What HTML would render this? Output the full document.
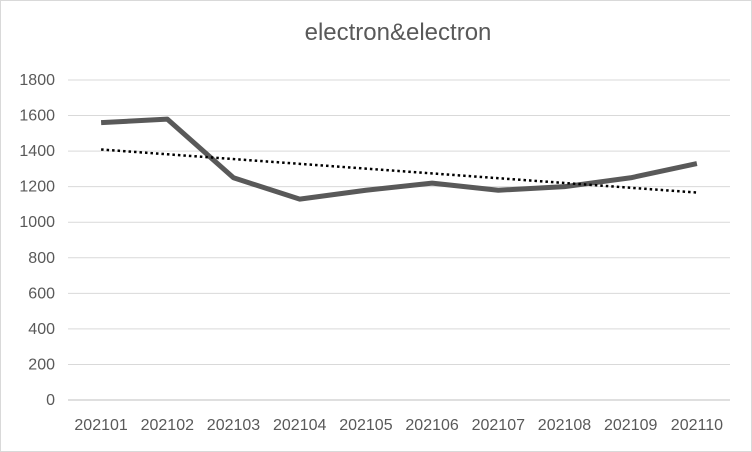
<!DOCTYPE html>
<html><head><meta charset="utf-8"><style>
html,body{margin:0;padding:0;background:#fff}
svg{display:block;font-family:"Liberation Sans",sans-serif}
</style></head><body>
<svg id="chart" width="752" height="452">
<rect x="0.5" y="0.5" width="751" height="451" fill="#fff" stroke="#d9d9d9"/>
<text x="398" y="40" text-anchor="middle" font-size="24" fill="#595959">electron&amp;electron</text>
<g id="grid"></g><g id="yticks"></g><g id="xticks"></g><g id="series"></g>
</svg>
<script>
const categories=["202101","202102","202103","202104","202105","202106","202107","202108","202109","202110"];
const values=[1560,1580,1250,1130,1180,1220,1180,1200,1250,1330];
const yTicks=[0,200,400,600,800,1000,1200,1400,1600,1800];
const NS="http://www.w3.org/2000/svg";
const L=68,R=730,T=80,B=400,yMax=1800;
const band=(R-L)/categories.length;
const xs=i=>L+band*(i+0.5);
const ys=v=>B-(v/yMax)*(B-T);
function mk(t,a,p){const e=document.createElementNS(NS,t);for(const k in a)e.setAttribute(k,a[k]);p.appendChild(e);return e;}
const grid=document.getElementById('grid'),yt=document.getElementById('yticks'),xt=document.getElementById('xticks'),se=document.getElementById('series');
yTicks.forEach(v=>{
 const l=mk('line',{x1:L,x2:R,y1:ys(v),y2:ys(v),stroke:v===0?'#bfbfbf':'#d9d9d9','stroke-width':1},grid);
 
 
 const t=mk('text',{x:55,y:ys(v)+5,'text-anchor':'end','font-size':16,fill:'#595959'},yt);
 t.textContent=v;
 
 
});
categories.forEach((c,i)=>{
 const t=mk('text',{x:xs(i),y:430,'text-anchor':'middle','font-size':16,fill:'#595959'},xt);
 t.textContent=c;
 
 
});
const pl=mk('polyline',{points:values.map((v,i)=>xs(i)+','+ys(v)).join(' '),fill:'none',stroke:'#595959','stroke-width':5,'stroke-linejoin':'round'},se);


const n=values.length,mx=(n-1)/2,my=values.reduce((a,b)=>a+b,0)/n;
let sxy=0,sxx=0;values.forEach((v,i)=>{sxy+=(i-mx)*(v-my);sxx+=(i-mx)*(i-mx);});
const slope=sxy/sxx,icpt=my-slope*mx;
const tl=mk('line',{x1:xs(0),y1:ys(icpt),x2:xs(n-1),y2:ys(icpt+slope*(n-1)),stroke:'#000','stroke-width':2.5,'stroke-dasharray':'2.5 3'},se);


</script>
</body></html>
